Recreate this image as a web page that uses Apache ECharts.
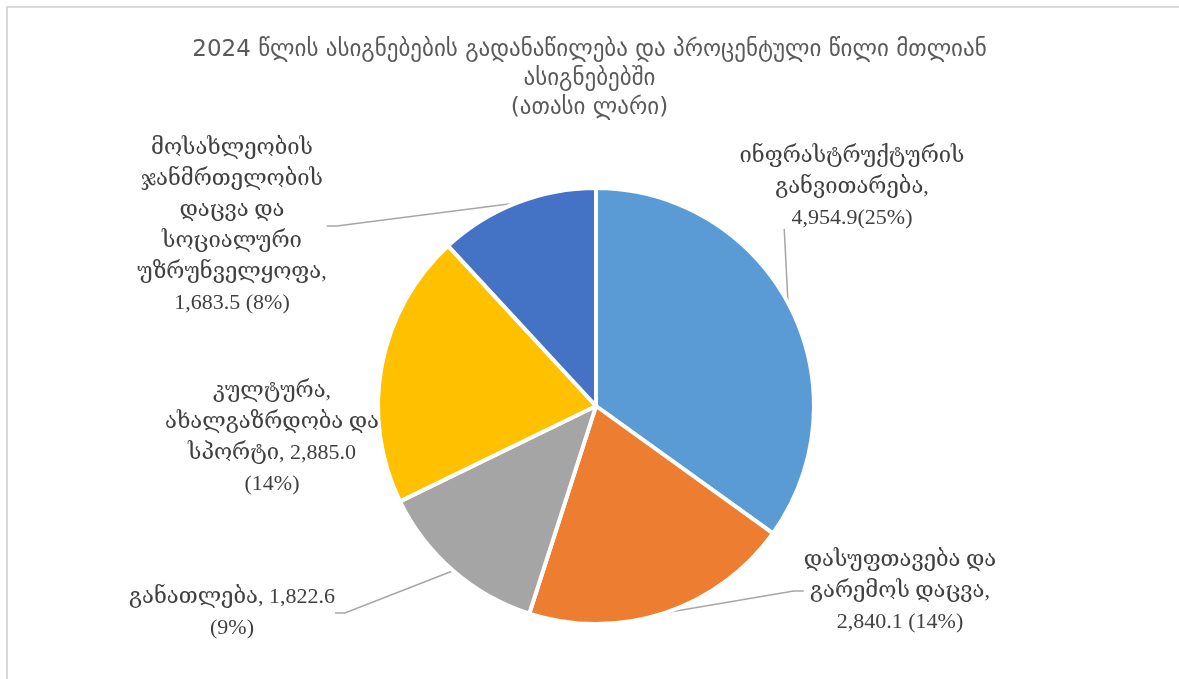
<!DOCTYPE html>
<html>
<head>
<meta charset="utf-8">
<title>ასიგნებების გადანაწილება</title>
<script src="https://cdn.jsdelivr.net/npm/echarts@6/dist/echarts.min.js"></script>
<style>
    html, body { margin: 0; padding: 0; background: #fff; }
    #chart { width: 1179px; height: 679px; }
</style>
</head>
<body>
<div id="chart"></div>
<script>
// მონაცემები (ათასი ლარი)
var categories = [
    "ინფრასტრუქტურის განვითარება",
    "დასუფთავება და გარემოს დაცვა",
    "განათლება",
    "კულტურა, ახალგაზრდობა და სპორტი",
    "მოსახლეობის ჯანმრთელობის დაცვა და სოციალური უზრუნველყოფა"
];
var values = [4954.9, 2840.1, 1822.6, 2885.0, 1683.5];
var labelTexts = [
    "ინფრასტრუქტურის\nგანვითარება,\n4,954.9(25%)",
    "დასუფთავება და\nგარემოს დაცვა,\n2,840.1 (14%)",
    "განათლება, 1,822.6\n(9%)",
    "კულტურა,\nახალგაზრდობა და\nსპორტი, 2,885.0\n(14%)",
    "მოსახლეობის\nჯანმრთელობის\nდაცვა და\nსოციალური\nუზრუნველყოფა,\n1,683.5 (8%)"
];
var colors = ['#5B9BD5', '#ED7D31', '#A5A5A5', '#FFC000', '#4472C4'];

var titleText = "2024 წლის ასიგნებების გადანაწილება და პროცენტული წილი მთლიან\nასიგნებებში\n(ათასი ლარი)";

var pieCenter = [596, 406];
var pieRadius = 218;

//ლეიბლების ადგილი
var labelPos = [
    { x: 852, y: 187 },
    { x: 900, y: 591 },
    { x: 232, y: 613 },
    { x: 272, y: 438 },
    { x: 232, y: 226 }
];

var pieData = categories.map(function (name, i) {
    return {
        name: name,
        value: values[i],
        itemStyle: { color: colors[i] },
        labelLine: { show: i !== 3 }
    };
});

var total = values.reduce(function (a, b) { return a + b; }, 0);

var myChart = echarts.init(document.getElementById('chart'));

var option = {
    animation: false,
    title: {
        text: titleText,
        left: 'center',
        top: 31,
        textStyle: {
            fontFamily: '"DejaVu Sans", sans-serif',
            fontWeight: 'normal',
            fontSize: 23,
            color: '#595959',
            lineHeight: 29
        }
    },
    graphic: [{
        type: 'rect',
        shape: { x: 7, y: 7, width: 1200, height: 700 },
        style: { fill: 'none', stroke: '#d9d9d9', lineWidth: 2 },
        silent: true
    }],
    series: [{
        type: 'pie',
        center: pieCenter,
        radius: pieRadius,
        startAngle: 90,
        clockwise: true,
        itemStyle: {
            borderColor: '#fff',
            borderWidth: 4
        },
        label: {
            show: true,
            formatter: function (p) {
                return labelTexts[p.dataIndex];
            },
            fontFamily: '"Liberation Serif", "DejaVu Serif", serif',
            fontSize: 22,
            lineHeight: 31,
            color: '#404040',
            align: 'center'
        },
        labelLine: {
            show: true,
            length: 20,
            length2: 10,
            lineStyle: { color: '#a6a6a6', width: 1.5 }
        },
        labelLayout: function (params) {
            var p = labelPos[params.dataIndex];
            var res = {
                x: p.x,
                y: p.y,
                align: 'center',
                verticalAlign: 'middle'
            };
            //პირველი ლეიბლის ხაზი ვერტიკალურად ზემოთ
            if (params.dataIndex === 0) {
                var a = Math.PI * values[0] / total;
                var sx = pieCenter[0] + (pieRadius - 2) * Math.sin(a);
                var sy = pieCenter[1] - (pieRadius - 2) * Math.cos(a);
                var bottom = p.y + 42;
                res.labelLinePoints = [[sx, sy], [sx - 4, bottom], [sx - 4, bottom]];
            }
            return res;
        },
        data: pieData
    }]
};

myChart.setOption(option);
</script>
</body>
</html>
